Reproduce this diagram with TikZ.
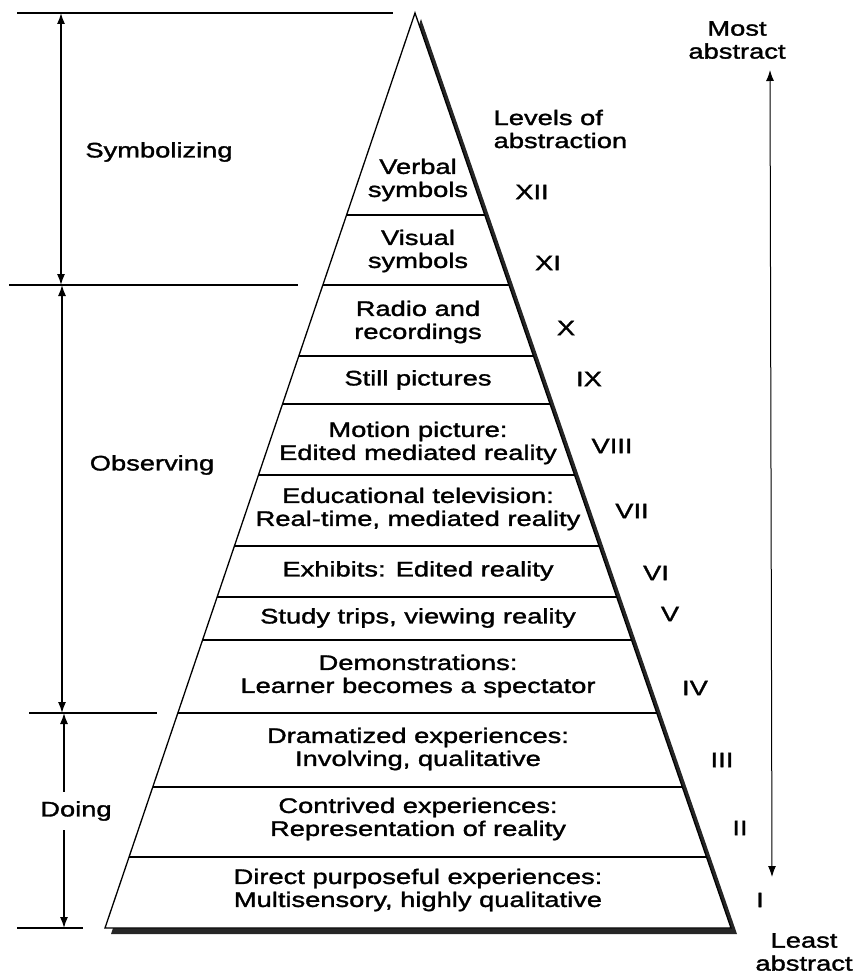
\documentclass[tikz,border=0pt]{standalone}
\usepackage{fontspec}
\setmainfont{Liberation Sans}[FakeStretch=1.3,FakeBold=1.5]
\usetikzlibrary{arrows.meta,calc}

\begin{document}
\begin{tikzpicture}[x=1pt,y=-1pt,line width=1.3pt,>={Latex[length=11pt,width=8pt]},
  every node/.style={font=\fontsize{21}{23}\selectfont,inner sep=0pt},
  lvl/.style={align=center},
  side/.style={align=center}]
\useasboundingbox (0,0) rectangle (856,976);
% pyramid with shadow
\coordinate (apex) at (415,13);
\coordinate (bl) at (105,928);
\coordinate (br) at (731,928);
\fill[black!85] ([shift={(6,6)}]apex) -- ([shift={(6,6)}]bl) -- ([shift={(6,6)}]br) -- cycle;
\draw[fill=white] (apex) -- (bl) -- (br) -- cycle;
\foreach \y in {215,285,356,404,475,546,597,640,713,787,857}{
  \pgfmathsetmacro\t{(\y-13)/915}
  \draw ($(apex)!\t!(bl)$) -- ($(apex)!\t!(br)$);
}
% levels
\foreach \n/\y/\txt in {12/180/{Verbal\\symbols},11/251/{Visual\\symbols},10/322/{Radio and\\recordings},
  9/380/{Still pictures},8/443/{Motion picture:\\Edited mediated reality},
  7/509/{Educational television:\\Real-time, mediated reality},6/571/{Exhibits: Edited reality},
  5/618/{Study trips, viewing reality},4/676/{Demonstrations:\\Learner becomes a spectator},
  3/749/{Dramatized experiences:\\Involving, qualitative},2/819/{Contrived experiences:\\Representation of reality},
  1/890/{Direct purposeful experiences:\\Multisensory, highly qualitative}}{
  \node[lvl] (lvl\n) at (418,\y) {\txt};
}
% roman numerals
\foreach \n/\x/\y/\r in {12/532/192/XII,11/548/263/XI,10/566/328/X,9/589/379/IX,8/612/446/VIII,
  7/632/511/VII,6/656/573/VI,5/670/614/V,4/695/688/IV,3/722/760/III,2/740/828/II,1/760/900/I}{
  \node (rom\n) at (\x,\y) {\r};
}
\node[align=left,anchor=west] (levels) at (493,129) {Levels of\\abstraction};
% left brackets
\draw (17,13) -- (393,13);
\draw (9,285) -- (298,285);
\draw (29,713) -- (157,713);
\draw (17,928) -- (83,928);
\coordinate (sym1) at (61,13);
\coordinate (sym2) at (61,285);
\coordinate (obs1) at (62,285);
\coordinate (obs2) at (62,713);
\coordinate (doi1) at (64,713);
\coordinate (doi2) at (64,928);
\node (symbolizing) at (159,152) {Symbolizing};
\node (observing) at (152,465) {Observing};
\node[inner ysep=9pt] (doing) at (76,811) {Doing};
\draw[<->] (sym1) -- (sym2);
\draw[<->] (obs1) -- (obs2);
\draw[<-] (doi1) -- (doi1 |- doing.north);
\draw[->] (doi2 |- doing.south) -- (doi2);
% right arrow
\node[side] (most) at (737,40) {Most\\abstract};
\node[side] (least) at (804,952) {Least\\abstract};
\coordinate (ra1) at (770,70);
\coordinate (ra2) at (772,877);
\draw[<->,line width=1pt] (ra1) -- (ra2);
\end{tikzpicture}
\end{document}
